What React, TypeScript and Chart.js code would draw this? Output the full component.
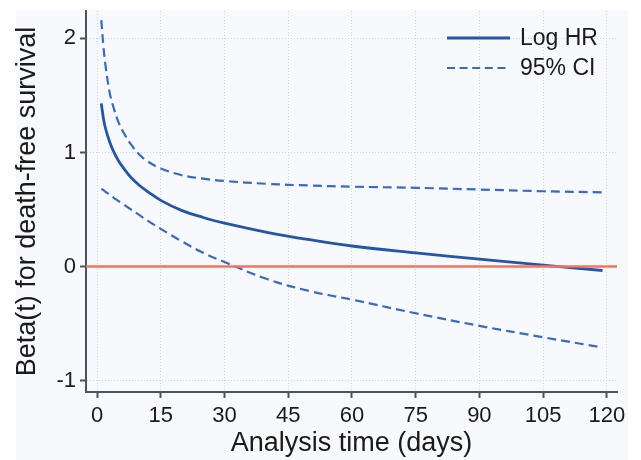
import { useEffect, useRef } from "react";
import { Chart, registerables } from "chart.js";

Chart.register(...registerables);

const days = [1, 1.5, 2, 3, 4, 5, 6, 8, 10, 12, 15, 20, 25, 30, 40, 50, 60, 75, 90, 105, 119];
const logHR = [1.43, 1.3, 1.21, 1.09, 1.0, 0.93, 0.875, 0.78, 0.71, 0.655, 0.58, 0.49, 0.43, 0.38, 0.3, 0.235, 0.18, 0.12, 0.065, 0.012, -0.035];
const upperCI = [2.16, 1.93, 1.76, 1.52, 1.38, 1.27, 1.19, 1.07, 0.98, 0.92, 0.86, 0.8, 0.77, 0.75, 0.725, 0.71, 0.7, 0.69, 0.675, 0.66, 0.65];
const lowerCI = [0.68, 0.67, 0.655, 0.63, 0.6, 0.575, 0.55, 0.5, 0.45, 0.4, 0.33, 0.22, 0.12, 0.04, -0.11, -0.215, -0.29, -0.41, -0.52, -0.62, -0.71];
const xTicks = [0, 15, 30, 45, 60, 75, 90, 105, 120];
const yTicks = [-1, 0, 1, 2];
const referenceValue = 0;
const X_MIN = -2.6;
const X_MAX = 122.4;
const Y_MIN = -1.1;
const Y_MAX = 2.24;

const FONT = "'Liberation Sans', Arial, Helvetica, sans-serif";
const AXIS = "#43585a";
const GRID = "#c4daec";
const SOLID = "#2355a8";
const DASHED = "#386bc0";
const DASH = [9, 5];

const bgPlugin = {
  id: "bgFill",
  beforeDraw(chart: any) {
    const ctx = chart.ctx;
    ctx.save();
    ctx.fillStyle = "#ffffff";
    ctx.fillRect(0, 0, chart.width, chart.height);
    ctx.fillStyle = "#f8f9fc";
    ctx.fillRect(16, 10, 612, chart.height - 10);
    ctx.restore();
  },
};

const legendPlugin = {
  id: "customLegend",
  afterDraw(chart: any) {
    const ctx = chart.ctx;
    const items = chart.data.datasets.filter((d: any) => d.showInLegend);
    ctx.save();
    items.forEach((d: any, i: number) => {
      const y = 38 + i * 30;
      ctx.beginPath();
      ctx.strokeStyle = d.borderColor;
      ctx.lineWidth = d.borderWidth;
      ctx.setLineDash(d.borderDash ? [8, 4.6] : []);
      ctx.moveTo(447, y);
      ctx.lineTo(510, y);
      ctx.stroke();
      ctx.setLineDash([]);
      ctx.fillStyle = "#1a1a1a";
      ctx.font = `23px ${FONT}`;
      ctx.textBaseline = "middle";
      ctx.textAlign = "left";
      ctx.fillText(d.label, 520, y + 1);
    });
    ctx.restore();
  },
};

export default function App() {
  const ref = useRef<HTMLCanvasElement | null>(null);

  useEffect(() => {
    if (!ref.current) return;
    const toPts = (ys: number[]) => days.map((d, i) => ({ x: d, y: ys[i] }));
    const chart = new Chart(ref.current, {
      type: "line",
      data: {
        datasets: [
          {
            label: "zero",
            data: [
              { x: X_MIN, y: referenceValue },
              { x: X_MAX, y: referenceValue },
            ],
            borderColor: "#f3735f",
            borderWidth: 2.5,
            pointRadius: 0,
            order: 0,
          },
          {
            label: "Log HR",
            data: toPts(logHR),
            borderColor: SOLID,
            borderWidth: 2.8,
            pointRadius: 0,
            tension: 0.4,
            order: 1,
            showInLegend: true,
          } as any,
          {
            label: "95% CI",
            data: toPts(upperCI),
            borderColor: DASHED,
            borderWidth: 2.2,
            borderDash: DASH,
            pointRadius: 0,
            tension: 0.4,
            order: 1,
            showInLegend: true,
          } as any,
          {
            label: "95% CI lower",
            data: toPts(lowerCI),
            borderColor: DASHED,
            borderWidth: 2.2,
            borderDash: DASH,
            pointRadius: 0,
            tension: 0.4,
            order: 1,
          },
        ],
      },
      options: {
        animation: false,
        responsive: false,
        devicePixelRatio: 1,
        layout: { padding: { top: 11, right: 24, left: 0, bottom: 0 } },
        plugins: {
          legend: { display: false },
          tooltip: { enabled: false },
        },
        scales: {
          x: {
            type: "linear",
            min: X_MIN,
            max: X_MAX,
            afterBuildTicks: (scale: any) => {
              scale.ticks = xTicks.map((v) => ({ value: v }));
            },
            afterFit: (scale: any) => {
              scale.height = 68;
              scale.paddingLeft = 0;
              scale.paddingRight = 0;
            },
            grid: {
              color: GRID,
              lineWidth: 1,
              tickLength: 6,
              tickColor: AXIS,
              tickWidth: 2,
            },
            border: { color: AXIS, width: 2, dash: [1, 2] },
            ticks: {
              color: "#1a1a1a",
              font: { family: FONT, size: 22 },
              padding: 5,
              maxRotation: 0,
            },
            title: {
              display: true,
              text: "Analysis time (days)",
              color: "#1a1a1a",
              font: { family: FONT, size: 27 },
              padding: { top: 0, bottom: 0 },
            },
          },
          y: {
            type: "linear",
            min: Y_MIN,
            max: Y_MAX,
            afterBuildTicks: (scale: any) => {
              scale.ticks = yTicks.map((v) => ({ value: v }));
            },
            afterFit: (scale: any) => {
              scale.width = 86;
              scale.paddingTop = 0;
              scale.paddingBottom = 0;
            },
            grid: {
              color: GRID,
              lineWidth: 1,
              tickLength: 6,
              tickColor: AXIS,
              tickWidth: 2,
            },
            border: { color: AXIS, width: 2, dash: [1, 2] },
            ticks: {
              color: "#1a1a1a",
              font: { family: FONT, size: 22 },
              padding: 4,
            },
            title: {
              display: true,
              text: "Beta(t) for death-free survival",
              color: "#1a1a1a",
              font: { family: FONT, size: 27 },
              padding: { top: 11, bottom: 0 },
            },
          },
        },
      },
      plugins: [bgPlugin, legendPlugin],
    });
    return () => chart.destroy();
  }, []);

  return (
    <div style={{ position: "absolute", left: 0, top: 0, width: 641, height: 460 }}>
      <canvas ref={ref} width={641} height={460} style={{ display: "block" }} />
    </div>
  );
}
